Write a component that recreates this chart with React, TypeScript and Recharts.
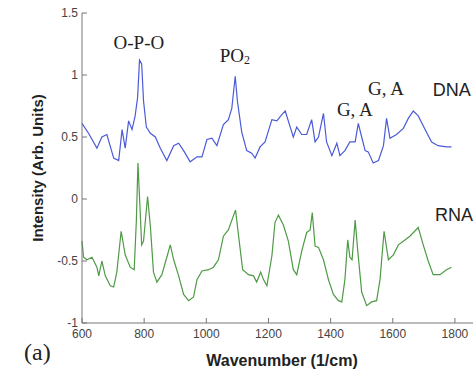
import React from 'react';
import { LineChart, Line, XAxis, YAxis, ReferenceDot } from 'recharts';

// spectra (wavenumber in 1/cm, intensity in arb. units)
const dnaWavenumber = [
  600, 621, 648, 664, 680, 702, 718, 729, 739, 750, 761, 771, 779, 785, 792, 798, 807, 820, 836, 852,
  873, 895, 911, 927, 948, 970, 986, 1002, 1018, 1034, 1055, 1071, 1082, 1093, 1100, 1114, 1130, 1146, 1157, 1173,
  1189, 1211, 1227, 1243, 1254, 1270, 1280, 1291, 1307, 1323, 1339, 1350, 1361, 1377, 1387, 1404, 1420, 1430, 1446, 1462,
  1479, 1489, 1500, 1511, 1521, 1537, 1554, 1570, 1580, 1591, 1612, 1634, 1650, 1666, 1682, 1704, 1725, 1746, 1773, 1789,
];
const dnaIntensity = [
  0.61, 0.53, 0.41, 0.5, 0.52, 0.33, 0.31, 0.56, 0.41, 0.63, 0.56, 0.67, 0.82, 1.12, 1.09, 0.79, 0.58, 0.53, 0.5, 0.41,
  0.31, 0.43, 0.45, 0.39, 0.3, 0.34, 0.34, 0.48, 0.49, 0.43, 0.6, 0.64, 0.73, 0.99, 0.79, 0.54, 0.39, 0.37, 0.33, 0.42,
  0.46, 0.64, 0.63, 0.68, 0.71, 0.58, 0.5, 0.58, 0.52, 0.52, 0.64, 0.46, 0.5, 0.69, 0.46, 0.35, 0.45, 0.35, 0.39, 0.46,
  0.46, 0.61, 0.5, 0.39, 0.38, 0.29, 0.31, 0.43, 0.65, 0.49, 0.52, 0.57, 0.65, 0.71, 0.67, 0.56, 0.46, 0.43, 0.42, 0.42,
];

const rnaWavenumber = [
  600, 605, 616, 632, 648, 654, 664, 675, 691, 702, 712, 726, 739, 755, 768, 775, 780, 785, 792, 798,
  811, 820, 830, 841, 857, 873, 884, 895, 911, 927, 943, 959, 970, 986, 1007, 1023, 1039, 1055, 1071, 1085,
  1094, 1104, 1117, 1136, 1152, 1162, 1175, 1184, 1195, 1211, 1221, 1232, 1248, 1264, 1280, 1291, 1307, 1323, 1334, 1341,
  1350, 1361, 1377, 1393, 1409, 1425, 1436, 1446, 1455, 1462, 1469, 1479, 1487, 1500, 1516, 1532, 1548, 1559, 1572, 1586,
  1602, 1618, 1634, 1655, 1682, 1698, 1714, 1730, 1752, 1773, 1789,
];
const rnaIntensity = [
  -0.34, -0.47, -0.49, -0.47, -0.55, -0.62, -0.5, -0.62, -0.7, -0.71, -0.59, -0.26, -0.45, -0.55, -0.57, -0.17, 0.29, 0.02, -0.37, -0.34,
  0.02, -0.22, -0.59, -0.67, -0.61, -0.47, -0.37, -0.49, -0.62, -0.77, -0.82, -0.79, -0.65, -0.58, -0.57, -0.55, -0.49, -0.3, -0.25, -0.15,
  -0.09, -0.3, -0.57, -0.61, -0.62, -0.67, -0.59, -0.65, -0.7, -0.46, -0.19, -0.13, -0.21, -0.34, -0.57, -0.61, -0.42, -0.27, -0.25, -0.11,
  -0.38, -0.39, -0.49, -0.65, -0.77, -0.82, -0.83, -0.65, -0.33, -0.47, -0.49, -0.17, -0.41, -0.75, -0.86, -0.83, -0.82, -0.65, -0.26, -0.49,
  -0.45, -0.37, -0.34, -0.3, -0.23, -0.37, -0.5, -0.61, -0.61, -0.57, -0.55,
];

const xTicks = [600, 800, 1000, 1200, 1400, 1600, 1800];
const yTicks = [-1, -0.5, 0, 0.5, 1, 1.5];

const dnaData = dnaWavenumber.map((w, i) => ({ w, v: dnaIntensity[i] }));
const rnaData = rnaWavenumber.map((w, i) => ({ w, v: rnaIntensity[i] }));

const AXIS = '#777';
const TICK_TEXT = '#444';
const SERIF = '"Liberation Serif", "DejaVu Serif", serif';
const SANS = '"Liberation Sans", Arial, sans-serif';

// text annotation drawn at a data coordinate
const annot = (text: React.ReactNode, opts: { serif?: boolean; anchor?: 'start' | 'middle'; size?: number } = {}) =>
  (p: any) => (
    <text
      x={p.cx}
      y={p.cy}
      textAnchor={opts.anchor ?? 'middle'}
      dominantBaseline="central"
      fontFamily={opts.serif === false ? SANS : SERIF}
      fontSize={opts.size ?? 19}
      fill="#222"
    >
      {text}
    </text>
  );

export default function App() {
  return (
    <div
      style={{
        position: 'absolute',
        left: 0,
        top: 0,
        width: 473,
        height: 370,
        overflow: 'hidden',
        background: '#fff',
      }}
    >
      <LineChart width={500} height={370} margin={{ top: 13, right: 14, bottom: 0, left: 0 }}>
        <XAxis
          xAxisId="bottom"
          type="number"
          dataKey="w"
          domain={[600, 1900]}
          ticks={xTicks}
          interval={0}
          height={47}
          tickSize={-5}
          tickMargin={11}
          stroke={AXIS}
          tick={{ fill: TICK_TEXT, fontSize: 12, fontFamily: SANS }}
          label={{
            value: 'Wavenumber (1/cm)',
            position: 'insideBottom',
            offset: 4,
            dx: -2,
            style: { fontFamily: SANS, fontSize: 16, fontWeight: 'bold', fill: '#222' },
          }}
        />
        <XAxis
          xAxisId="top"
          orientation="top"
          type="number"
          dataKey="w"
          domain={[600, 1900]}
          ticks={xTicks}
          height={0}
          mirror
          tick={false}
          tickSize={5}
          stroke={AXIS}
        />
        <YAxis
          yAxisId="left"
          type="number"
          domain={[-1, 1.5]}
          ticks={yTicks}
          interval={0}
          width={82}
          tickSize={-5}
          tickMargin={9}
          stroke={AXIS}
          tick={{ fill: TICK_TEXT, fontSize: 12, fontFamily: SANS }}
          label={{
            value: 'Intensity (Arb. Units)',
            angle: -90,
            position: 'center',
            dx: -3,
            style: { fontFamily: SANS, fontSize: 15, fontWeight: 'bold', fill: '#222', textAnchor: 'middle' },
          }}
        />
        <Line
          xAxisId="bottom"
          yAxisId="left"
          data={dnaData}
          dataKey="v"
          type="linear"
          stroke="#4a5ad8"
          strokeWidth={1.2}
          dot={false}
          isAnimationActive={false}
        />
        <Line
          xAxisId="bottom"
          yAxisId="left"
          data={rnaData}
          dataKey="v"
          type="linear"
          stroke="#4e9a45"
          strokeWidth={1.2}
          dot={false}
          isAnimationActive={false}
        />
        <ReferenceDot xAxisId="bottom" yAxisId="left" x={783} y={1.26} r={0} shape={annot('O-P-O')} />
        <ReferenceDot
          xAxisId="bottom"
          yAxisId="left"
          x={1092}
          y={1.16}
          r={0}
          shape={annot(
            <>
              PO<tspan fontSize={12} dy={5}>2</tspan>
            </>,
          )}
        />
        <ReferenceDot xAxisId="bottom" yAxisId="left" x={1578} y={0.895} r={0} shape={annot('G, A')} />
        <ReferenceDot xAxisId="bottom" yAxisId="left" x={1478} y={0.72} r={0} shape={annot('G, A')} />
        <ReferenceDot
          xAxisId="bottom"
          yAxisId="left"
          x={1729}
          y={0.88}
          r={0}
          shape={annot('DNA', { serif: false, anchor: 'start', size: 18 })}
        />
        <ReferenceDot
          xAxisId="bottom"
          yAxisId="left"
          x={1736}
          y={-0.13}
          r={0}
          shape={annot('RNA', { serif: false, anchor: 'start', size: 18 })}
        />
      </LineChart>
      <div
        style={{
          position: 'absolute',
          left: 24,
          top: 339,
          fontFamily: SERIF,
          fontSize: 24,
          lineHeight: '26px',
          color: '#222',
        }}
      >
        (a)
      </div>
    </div>
  );
}
